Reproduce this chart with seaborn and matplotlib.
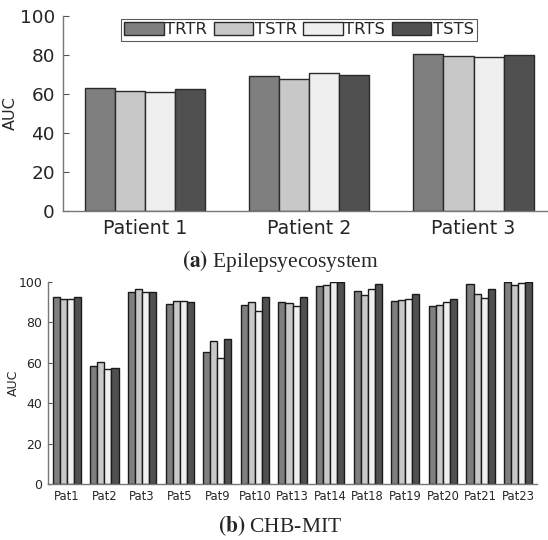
import matplotlib
matplotlib.use("Agg")
import matplotlib.pyplot as plt
import seaborn as sns
import pandas as pd

methods = ["TRTR", "TSTR", "TRTS", "TSTS"]
colors = ["#7f7f7f", "#c8c8c8", "#efefef", "#505050"]

patients_a = ["Patient 1", "Patient 2", "Patient 3"]
auc_a = {
    "TRTR": [63.2, 69.1, 80.5],
    "TSTR": [61.7, 67.9, 79.3],
    "TRTS": [61.2, 70.9, 78.8],
    "TSTS": [62.6, 69.9, 80.0],
}

patients_b = ["Pat1", "Pat2", "Pat3", "Pat5", "Pat9", "Pat10", "Pat13",
              "Pat14", "Pat18", "Pat19", "Pat20", "Pat21", "Pat23"]
auc_b = {
    "TRTR": [92.6, 58.3, 95.2, 89.1, 65.3, 88.6, 90.3, 98.2, 95.7, 90.6, 88.0, 98.8, 100.0],
    "TSTR": [91.4, 60.6, 96.4, 90.4, 70.8, 90.1, 89.4, 98.7, 93.4, 91.1, 88.6, 94.2, 98.5],
    "TRTS": [91.4, 56.9, 95.2, 90.4, 62.2, 85.5, 88.3, 100.0, 96.5, 91.7, 89.9, 92.1, 99.7],
    "TSTS": [92.6, 57.4, 95.2, 90.1, 71.8, 92.6, 92.6, 100.0, 99.2, 94.1, 91.7, 96.5, 100.0],
}

def to_long(cats, d):
    rows = []
    for m in methods:
        for c, v in zip(cats, d[m]):
            rows.append({"patient": c, "method": m, "AUC": v})
    return pd.DataFrame(rows)

df_a = to_long(patients_a, auc_a)
df_b = to_long(patients_b, auc_b)

sns.set_style("white")
plt.rcParams["font.family"] = ["DejaVu Sans"]
plt.rcParams["mathtext.fontset"] = "stix"
txt = "#262626"

fig = plt.figure(figsize=(5.48, 5.40), dpi=100)

# ---- top panel
ax1 = fig.add_axes([63.3/548, 1-211/540, (548-63.3)/548, (211-16)/540])
sns.barplot(data=df_a, x="patient", y="AUC", hue="method", hue_order=methods,
            palette=colors, width=0.732, edgecolor="#2a2a2a", linewidth=1.0,
            saturation=1, ax=ax1, legend=True)
ax1.set_xlim(-0.5, 2.454)
ax1.set_ylim(0, 100)
ax1.set_yticks([0, 20, 40, 60, 80, 100])
ax1.set_xlabel("")
ax1.set_ylabel("AUC", fontsize=11.5, color=txt)
ax1.yaxis.set_label_coords((18 - 63.3) / (548 - 63.3), 0.5)
ax1.tick_params(axis="y", direction="in", length=4, width=0.8, colors="#555555",
                labelsize=13.3, labelcolor=txt, left=True, pad=6)
ax1.tick_params(axis="x", length=0, labelsize=13.7, labelcolor=txt, pad=6)
for s in ["top", "right"]:
    ax1.spines[s].set_visible(False)
for s in ["left", "bottom"]:
    ax1.spines[s].set_color("#777777")
    ax1.spines[s].set_linewidth(1.0)
ax1.get_legend().remove()
handles, labels = ax1.get_legend_handles_labels()
leg = fig.legend(handles[:4], labels[:4], loc="upper left",
                 bbox_to_anchor=(121/548, 1-19/540), ncol=4, frameon=True,
                 fancybox=False, fontsize=11.8, handlelength=2.4, handleheight=0.85,
                 handletextpad=0.1, columnspacing=0.4, borderpad=0.2,
                 borderaxespad=0, labelcolor=txt)
leg.get_frame().set_edgecolor("#333333")
leg.get_frame().set_linewidth(0.8)

fig.text(280/548, 1-261/540, r"$\mathbf{(a)}$ Epilepsyecosystem", ha="center", va="center",
         fontsize=15.5, family="Liberation Serif")

# ---- bottom panel
ax2 = fig.add_axes([48/548, 1-484/540, (537-48)/548, (484-282)/540])
sns.barplot(data=df_b, x="patient", y="AUC", hue="method", hue_order=methods,
            palette=colors, width=0.75, edgecolor="#1a1a1a", linewidth=1.0,
            saturation=1, ax=ax2, legend=False)
ax2.set_xlim(-0.5, 12.5)
ax2.set_ylim(0, 100)
ax2.set_yticks([0, 20, 40, 60, 80, 100])
ax2.set_xlabel("")
ax2.set_ylabel("AUC", fontsize=9, color=txt)
ax2.yaxis.set_label_coords((19.5 - 48) / (537 - 48), 0.5)
ax2.tick_params(axis="y", direction="in", length=3, width=0.8, colors="#555555",
                labelsize=9, labelcolor=txt, left=True, pad=4)
ax2.tick_params(axis="x", length=0, labelsize=8.3, labelcolor=txt, pad=4)
for s in ["top", "right"]:
    ax2.spines[s].set_visible(False)
for s in ["left", "bottom"]:
    ax2.spines[s].set_color("#777777")
    ax2.spines[s].set_linewidth(1.0)

fig.text(280/548, 1-526/540, r"$\mathbf{(b)}$ CHB-MIT", ha="center", va="center",
         fontsize=15.5, family="Liberation Serif")

fig.savefig("out.png", dpi=100)
